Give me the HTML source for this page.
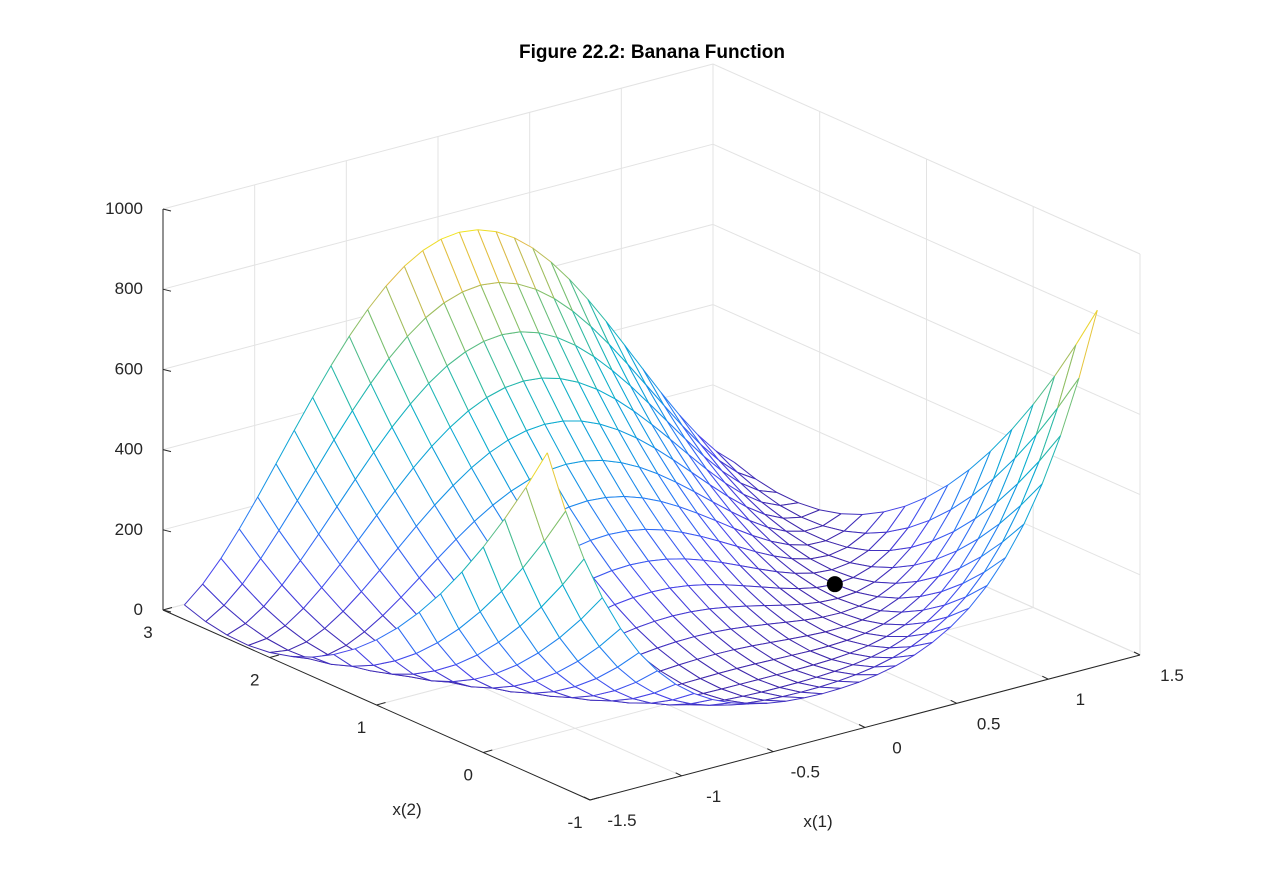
<!DOCTYPE html>
<html><head><meta charset="utf-8"><style>
html,body{margin:0;padding:0;background:#fff;}
svg{display:block;font-family:"Liberation Sans",Arial,sans-serif;}
</style></head><body>
<svg id="chart" width="1261" height="896" viewBox="0 0 1261 896" xmlns="http://www.w3.org/2000/svg">
<rect x="0" y="0" width="1261" height="896" fill="#fff"/>
<text x="652" y="58" text-anchor="middle" font-size="19" font-weight="bold" fill="#000">Figure 22.2: Banana Function</text>
<g id="grid"></g><g id="surf"></g><g id="axes"></g>
</svg>
<script>
// data arrays
const x1Values = []; for (let i = 0; i <= 30; i++) x1Values.push(+(-1.5 + i * 0.1).toFixed(2));
const x2Values = []; for (let j = 0; j <= 17; j++) x2Values.push(+(-0.6 + j * 0.2).toFixed(2));
const x1Ticks = [-1.5, -1, -0.5, 0, 0.5, 1, 1.5];
const x1TickLabels = ["-1.5", "-1", "-0.5", "0", "0.5", "1", "1.5"];
const x2Ticks = [-1, 0, 1, 2, 3];
const x2TickLabels = ["-1", "0", "1", "2", "3"];
const zTicks = [0, 200, 400, 600, 800, 1000];
const zTickLabels = ["0", "200", "400", "600", "800", "1000"];
const minimumPoint = [1, 1, 0];
function banana(a, b) { return 100 * (b - a * a) * (b - a * a) + (1 - a) * (1 - a); }

const NS = "http://www.w3.org/2000/svg";
function P(x1, x2, z) {
  return [163 + (x1 + 1.5) * 183.33 + (3 - x2) * 106.75,
          610 - (x1 + 1.5) * 48.33 + (3 - x2) * 47.5 - z * 0.401];
}
function depth(x1, x2, z) {
  const a = (x1 + 1.5) / 3, b = (x2 + 1) / 4, c = z / 1000;
  return 0.866 * (0.609 * a + 0.793 * b) - 0.5 * c;
}
function mk(tag, attrs, parent) {
  const e = document.createElementNS(NS, tag);
  for (const k in attrs) e.setAttribute(k, attrs[k]);
  parent.appendChild(e); return e;
}
const stops = [[0,[62,38,168]],[0.125,[71,69,236]],[0.25,[42,120,246]],[0.375,[18,152,226]],[0.5,[10,174,206]],[0.625,[48,187,160]],[0.75,[130,192,106]],[0.875,[225,186,70]],[1,[249,251,14]]];
function parula(t) {
  t = Math.max(0, Math.min(1, t));
  for (let i = 1; i < stops.length; i++) {
    if (t <= stops[i][0]) {
      const [t0, c0] = stops[i-1], [t1, c1] = stops[i];
      const f = (t - t0) / (t1 - t0);
      return "rgb(" + c0.map((v, k) => Math.round(v + (c1[k] - v) * f)).join(",") + ")";
    }
  }
  return "rgb(249,251,14)";
}
const grid = document.getElementById("grid"), surf = document.getElementById("surf"), axes = document.getElementById("axes");
const gc = "#e3e3e3";
function line(p, q, attrs, parent) {
  return mk("line", Object.assign({x1: p[0].toFixed(1), y1: p[1].toFixed(1), x2: q[0].toFixed(1), y2: q[1].toFixed(1)}, attrs), parent);
}
zTicks.forEach(z => {
  const g1 = line(P(-1.5, 3, z), P(1.5, 3, z), {stroke: gc}, grid);
  
  
  const g2 = line(P(1.5, 3, z), P(1.5, -1, z), {stroke: gc}, grid);
  
  
});
x1Ticks.forEach(x => {
  const g1 = line(P(x, 3, 0), P(x, 3, 1000), {stroke: gc}, grid);
  
  
  const g2 = line(P(x, 3, 0), P(x, -1, 0), {stroke: gc}, grid);
  
  
});
x2Ticks.forEach(y => {
  const g1 = line(P(1.5, y, 0), P(1.5, y, 1000), {stroke: gc}, grid);
  
  
  const g2 = line(P(-1.5, y, 0), P(1.5, y, 0), {stroke: gc}, grid);
  
  
});
const Z = x2Values.map(b => x1Values.map(a => banana(a, b)));
let zmax = 0; Z.forEach(r => r.forEach(v => { if (v > zmax) zmax = v; }));
const quads = [];
for (let j = 0; j < x2Values.length - 1; j++) for (let i = 0; i < x1Values.length - 1; i++) {
  const pts = [[i, j], [i + 1, j], [i + 1, j + 1], [i, j + 1]].map(([a, b]) => [x1Values[a], x2Values[b], Z[b][a]]);
  const d = pts.reduce((s, p) => s + depth(p[0], p[1], p[2]), 0) / 4;
  quads.push({pts, d});
}
quads.sort((a, b) => b.d - a.d);
quads.forEach(q => {
  const sp = q.pts.map(p => P(p[0], p[1], p[2]));
  const poly = mk("polygon", {points: sp.map(p => p[0].toFixed(1) + "," + p[1].toFixed(1)).join(" "), fill: "#fff", stroke: "none"}, surf);
  
  
  for (let k = 0; k < 4; k++) {
    const a = q.pts[k], b = q.pts[(k + 1) % 4];
    const e = line(sp[k], sp[(k + 1) % 4], {stroke: parula((a[2] + b[2]) / 2 / zmax), "stroke-width": 1}, surf);
    
    
  }
});
const mp = P(minimumPoint[0], minimumPoint[1], minimumPoint[2]);
const dot = mk("circle", {cx: mp[0], cy: mp[1], r: 8, fill: "#000"}, surf);


const ax = {stroke: "#262626", "stroke-width": 1};
const zA = line(P(-1.5, 3, 0), P(-1.5, 3, 1000), ax, axes);


const x2A = line(P(-1.5, 3, 0), P(-1.5, -1, 0), ax, axes);


const x1A = line(P(-1.5, -1, 0), P(1.5, -1, 0), ax, axes);


function txt(s, x, y, anchor, name) {
  const t = mk("text", {x: x, y: y, "text-anchor": anchor, "font-size": 17, fill: "#262626"}, axes);
  t.textContent = s;
  
  
}
zTicks.forEach((z, k) => {
  const p = P(-1.5, 3, z);
  line(p, [p[0] + 8, p[1] + 2], ax, axes);
  txt(zTickLabels[k], p[0] - 20, p[1] + 5, "end", "z-tick-label");
});
x2Ticks.forEach((y, k) => {
  const p = P(-1.5, y, 0);
  line(p, [p[0] + 9, p[1] - 2.5], ax, axes);
  txt(x2TickLabels[k], p[0] - 15, p[1] + 28, "middle", "x2-tick-label");
});
x1Ticks.forEach((x, k) => {
  const p = P(x, -1, 0);
  line(p, [p[0] - 6, p[1] - 3], ax, axes);
  txt(x1TickLabels[k], p[0] + 32, p[1] + 26, "middle", "x1-tick-label");
});
txt("x(2)", 407, 815, "middle", "x2-axis-title");
txt("x(1)", 818, 827, "middle", "x1-axis-title");
</script>
</body></html>
